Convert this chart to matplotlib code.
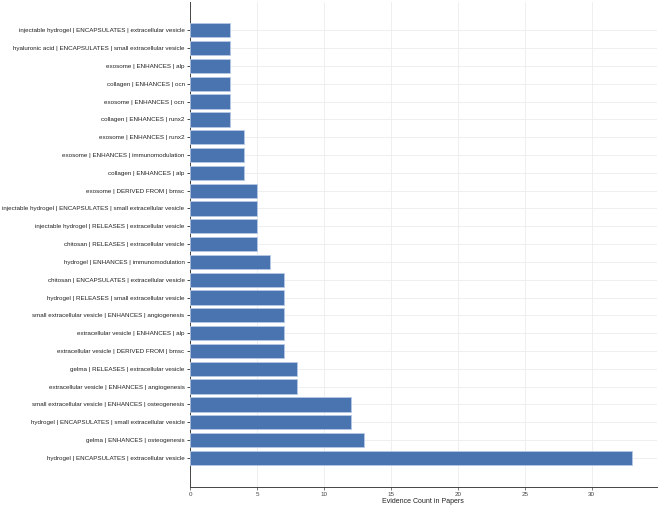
import matplotlib.pyplot as plt

plt.rcParams['font.family'] = ['Liberation Sans', 'DejaVu Sans']

# top to bottom as shown in the chart
labels = [
    'injectable hydrogel | ENCAPSULATES | extracellular vesicle',
    'hyaluronic acid | ENCAPSULATES | small extracellular vesicle',
    'exosome | ENHANCES | alp',
    'collagen | ENHANCES | ocn',
    'exosome | ENHANCES | ocn',
    'collagen | ENHANCES | runx2',
    'exosome | ENHANCES | runx2',
    'exosome | ENHANCES | immunomodulation',
    'collagen | ENHANCES | alp',
    'exosome | DERIVED FROM | bmsc',
    'injectable hydrogel | ENCAPSULATES | small extracellular vesicle',
    'injectable hydrogel | RELEASES | extracellular vesicle',
    'chitosan | RELEASES | extracellular vesicle',
    'hydrogel | ENHANCES | immunomodulation',
    'chitosan | ENCAPSULATES | extracellular vesicle',
    'hydrogel | RELEASES | small extracellular vesicle',
    'small extracellular vesicle | ENHANCES | angiogenesis',
    'extracellular vesicle | ENHANCES | alp',
    'extracellular vesicle | DERIVED FROM | bmsc',
    'gelma | RELEASES | extracellular vesicle',
    'extracellular vesicle | ENHANCES | angiogenesis',
    'small extracellular vesicle | ENHANCES | osteogenesis',
    'hydrogel | ENCAPSULATES | small extracellular vesicle',
    'gelma | ENHANCES | osteogenesis',
    'hydrogel | ENCAPSULATES | extracellular vesicle',
]
counts = [3, 3, 3, 3, 3, 3, 4, 4, 4, 5, 5, 5, 5, 6, 7, 7, 7, 7, 7, 8, 8, 12, 12, 13, 33]

fig = plt.figure(figsize=(6.58, 5.07), dpi=100)
ax = fig.add_axes([0.289, 0.039, 0.709, 0.958])

ypos = list(range(len(labels)))
ax.barh(ypos, counts, height=0.8, color='#4a74b0', edgecolor='#b5c9e6', linewidth=0.6, zorder=3)
ax.set_yticks(ypos)
ax.set_yticklabels(labels, fontsize=4.5, color='#222222')
ax.set_ylim(len(labels) - 1 + 1.65, -1.62)
ax.set_xlim(0, 34.85)
ax.set_xticks([0, 5, 10, 15, 20, 25, 30])
ax.tick_params(axis='x', labelsize=4.5, length=2, width=0.5, pad=1.5, colors='#444444')
ax.tick_params(axis='y', length=2, width=0.5, pad=2)
ax.set_xlabel('Evidence Count in Papers', fontsize=5, labelpad=1, color='#222222')
ax.grid(True, color='#ececec', linewidth=0.6, zorder=0)
ax.set_axisbelow(True)
for s in ['top', 'right']:
    ax.spines[s].set_visible(False)
for s in ['left', 'bottom']:
    ax.spines[s].set_color('#444444')
    ax.spines[s].set_linewidth(0.7)

fig.savefig('out.png', dpi=100)
